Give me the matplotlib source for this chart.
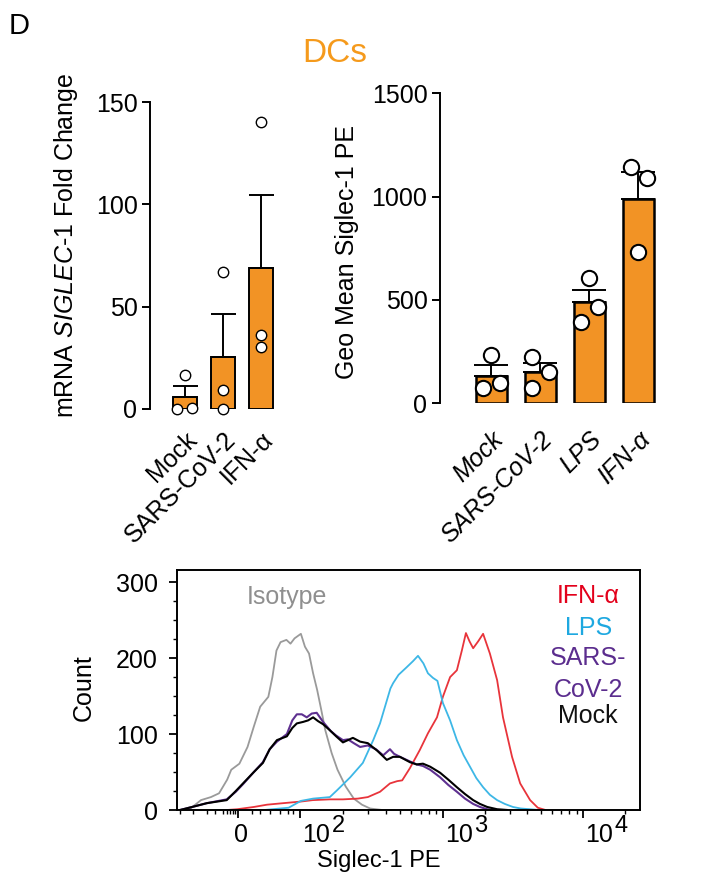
import numpy as np
import matplotlib
matplotlib.use("Agg")
import matplotlib.pyplot as plt
import matplotlib.transforms as mtransforms

plt.rcParams["font.family"] = ["Liberation Sans", "DejaVu Sans"]
plt.rcParams["mathtext.fontset"] = "custom"
plt.rcParams["mathtext.rm"] = "Liberation Sans"
plt.rcParams["mathtext.it"] = "Liberation Sans:italic"

# --- qPCR: SIGLEC-1 fold change ---
mrna_groups = ["Mock", "SARS-CoV-2", "IFN-α"]
mrna_points = [[0.0, 0.5, 16.5], [0.0, 9.3, 66.8], [30.1, 36.2, 140.4]]

# --- flow: geo mean Siglec-1 PE ---
geo_groups = ["Mock", "SARS-CoV-2", "LPS", "IFN-α"]
geo_points = [[72.6, 96.8, 234.0], [72.6, 153.0, 225.5],
              [395.0, 464.5, 605.0], [734.0, 1089.0, 1145.0]]

# --- histograms (x in display channels 0-1024, y = count) ---
iso_x = [3, 30, 53, 75, 93, 111, 120, 138, 156, 170, 184, 202, 211, 220, 229, 242, 251,
         260, 274, 283, 292, 301, 310, 319, 328, 342, 355, 373, 391, 409, 427, 454, 481]
iso_y = [0, 2, 13, 17, 22, 40, 53, 61, 83, 110, 136, 149, 175, 210, 221, 224, 219,
         226, 232, 215, 206, 180, 158, 132, 105, 75, 53, 31, 15, 7, 2, 0, 0]

mock_x = [7, 40, 66, 110, 130, 146, 170, 190, 205, 221, 243, 255, 265, 279, 290, 301, 312,
          323, 338, 352, 367, 378, 389, 405, 422, 443, 464, 478, 493, 515, 530, 544, 560,
          582, 600, 619, 637, 655, 670, 686, 708, 730]
mock_y = [0, 5, 9, 13, 25, 35, 50, 62, 80, 92, 97, 108, 114, 116, 118, 122, 117,
          113, 105, 97, 89, 92, 95, 90, 88, 78, 66, 70, 70, 63, 60, 61, 57,
          49, 40, 30, 21, 13, 8, 4, 1, 0]

sars_x = [7, 40, 66, 110, 130, 146, 170, 190, 205, 221, 243, 255, 265, 276, 287, 298, 309,
          323, 340, 352, 367, 378, 391, 405, 422, 440, 456, 471, 480, 493, 515, 530, 544,
          560, 582, 600, 619, 637, 655, 670, 686, 700, 730]
sars_y = [0, 5, 9, 14, 24, 34, 50, 63, 80, 90, 100, 118, 126, 126, 122, 127, 128,
          116, 104, 98, 92, 93, 88, 83, 85, 80, 72, 80, 74, 70, 64, 60, 58,
          53, 43, 33, 24, 15, 8, 4, 1, 0, 0]

lps_x = [84, 193, 247, 274, 301, 338, 354, 383, 411, 434, 449, 462, 472, 478, 490, 508, 522,
         533, 545, 555, 566, 576, 588, 604, 619, 634, 648, 662, 677, 692, 708, 725, 743,
         760, 781, 800]
lps_y = [0, 0, 3, 12, 15, 17, 26, 43, 62, 92, 114, 140, 160, 167, 178, 188, 196,
         203, 193, 180, 174, 170, 141, 118, 92, 72, 57, 42, 30, 20, 13, 8, 4,
         2, 1, 0]

ifn_x = [110, 133, 170, 199, 235, 272, 300, 338, 367, 400, 422, 449, 465, 471, 487, 498, 515,
         537, 555, 575, 588, 604, 619, 630, 639, 647, 655, 666, 677, 692, 708, 721, 741,
         759, 781, 798, 815]
ifn_y = [0, 1, 4, 7, 9, 11, 13, 14, 14, 15, 17, 24, 32, 35, 38, 39, 55,
         79, 101, 122, 149, 175, 184, 210, 233, 222, 213, 222, 232, 206, 171, 122, 70,
         35, 13, 3, 0]

# channel positions of the 0 / 10^2 / 10^3 / 10^4 gridlines
major_ch = [135, 272, 588, 898]
low_minor_ch = [7, 35, 66, 84, 102, 111, 117, 124, 128, 166, 184, 206, 228, 245, 257]

orange = "#F29325"
title_orange = "#F59A1C"

fig = plt.figure(figsize=(7.01, 8.74), dpi=100)


def bar_panel(ax, groups, points, width, msize, mew, blw, cap, jitter, pad, style):
    x = np.arange(len(groups))
    means = [np.mean(p) for p in points]
    sems = [np.std(p, ddof=1) / np.sqrt(len(p)) for p in points]
    ax.bar(x, means, width=width, color=orange, edgecolor="black", linewidth=blw, zorder=2)
    ax.errorbar(x, means, yerr=[np.zeros(len(x)), sems], fmt="none", ecolor="black",
                elinewidth=1.4, capsize=cap, capthick=1.4, zorder=3)
    for i, p in enumerate(points):
        ax.plot(x[i] + np.array(jitter[i]), p, "o", ms=msize, mfc="white", mec="black",
                mew=mew, clip_on=False, zorder=4)
    for s in ["top", "right", "bottom"]:
        ax.spines[s].set_visible(False)
    ax.spines["left"].set_linewidth(1.4)
    ax.tick_params(axis="y", direction="out", length=6, width=1.4, labelsize=18, pad=3)
    ax.set_xticks(x)
    ax.set_xticklabels(groups, rotation=45, ha="right", rotation_mode="anchor",
                       fontsize=18, fontstyle=style)
    ax.tick_params(axis="x", length=0, pad=pad)


# left: mRNA fold change
ax1 = fig.add_axes([150 / 701, 1 - 409 / 874, 134 / 701, 307 / 874])
bar_panel(ax1, mrna_groups, mrna_points, 0.63, 7.5, 1.0, 1.4, 9,
          [[-0.21, 0.19, 0], [0, 0, 0], [0, 0, 0]], 13, "normal")
ax1.set_xlim(-0.92, 2.6)
ax1.set_ylim(0, 150)
ax1.set_yticks([0, 50, 100, 150])
fig.text(66 / 701, 1 - 245 / 874, r"mRNA $\it{SIGLEC}$-$\it{1}$ Fold Change",
         rotation=90, ha="center", va="center", fontsize=18)

# right: geo mean
ax2 = fig.add_axes([440 / 701, 1 - 403.3 / 874, 223 / 701, 310 / 874])
bar_panel(ax2, geo_groups, geo_points, 0.65, 11, 1.5, 1.8, 12,
          [[-0.18, 0.18, 0], [-0.18, 0.18, -0.18], [-0.17, 0.18, 0], [0, 0.18, -0.15]],
          17, "italic")
ax2.set_xlim(-1.05, 3.5)
ax2.set_ylim(0, 1500)
ax2.set_yticks([0, 500, 1000, 1500])
fig.text(347 / 701, 1 - 252 / 874, "Geo Mean Siglec-1 PE",
         rotation=90, ha="center", va="center", fontsize=18)

fig.text(335 / 701, 1 - 62 / 874, "DCs", color=title_orange, fontsize=24,
         ha="center", va="baseline")
fig.text(9 / 701, 1 - 34 / 874, "D", fontsize=21, ha="left", va="baseline")

# bottom: histogram overlay
ax3 = fig.add_axes([177 / 701, 1 - 810 / 874, 463 / 701, 240 / 874])
ax3.plot(iso_x, iso_y, color="#9A9A9A", lw=1.3)
ax3.plot(ifn_x, ifn_y, color="#E8343B", lw=1.3)
ax3.plot(lps_x, lps_y, color="#3DB7E6", lw=1.3)
ax3.plot(sars_x, sars_y, color="#5E3090", lw=1.5)
ax3.plot(mock_x, mock_y, color="black", lw=1.5)
ax3.set_xlim(0, 1024)
ax3.set_ylim(0, 316)
for s in ax3.spines.values():
    s.set_linewidth(1.4)

ax3.set_yticks([0, 100, 200, 300])
ax3.set_yticks(np.arange(25, 316, 25), minor=True)
ax3.tick_params(axis="y", which="major", length=6, width=1.3, labelsize=18, pad=8)
ax3.tick_params(axis="y", which="minor", length=3, width=1.0)

minor_ch = list(low_minor_ch)
for k in range(2, 10):
    minor_ch.append(272 + np.log10(k) * 316)
    minor_ch.append(588 + np.log10(k) * 310)
    c = 898 + np.log10(k) * 310
    if c < 1024:
        minor_ch.append(c)
ax3.set_xticks(major_ch)
ax3.set_xticks(minor_ch, minor=True)
ax3.tick_params(axis="x", which="major", length=6, width=1.3, labelbottom=False)
ax3.tick_params(axis="x", which="minor", length=3, width=1.0)

trans = mtransforms.blended_transform_factory(ax3.transData, ax3.transAxes)
ax3.text(major_ch[0] + 7, -0.133, "0", transform=trans, ha="center", va="baseline",
         fontsize=18)
for ch, e in zip(major_ch[1:], ["2", "3", "4"]):
    ax3.text(ch + 4, -0.133, "10", transform=trans, ha="left", va="baseline", fontsize=18)
    ax3.text(ch + 70, -0.092, e, transform=trans, ha="left", va="baseline", fontsize=17)

fig.text(379 / 701, 1 - 867 / 874, "Siglec-1 PE", ha="center", va="baseline", fontsize=17)
fig.text(84 / 701, 1 - 688 / 874, "Count", rotation=90, ha="center", va="center",
         fontsize=18)

ax3.text(0.2376, 0.858, "Isotype", transform=ax3.transAxes, color="#8F8F8F",
         ha="center", va="baseline", fontsize=18)
legend_rows = [("IFN-α", "#E3001B", 0.8625), ("LPS", "#1EA8E0", 0.729),
               ("SARS-", "#5B2D8E", 0.604), ("CoV-2", "#5B2D8E", 0.471),
               ("Mock", "#111111", 0.3625)]
for label, col, yy in legend_rows:
    ax3.text(0.888, yy, label, transform=ax3.transAxes, color=col,
             ha="center", va="baseline", fontsize=18)

fig.savefig("out.png", dpi=100)
